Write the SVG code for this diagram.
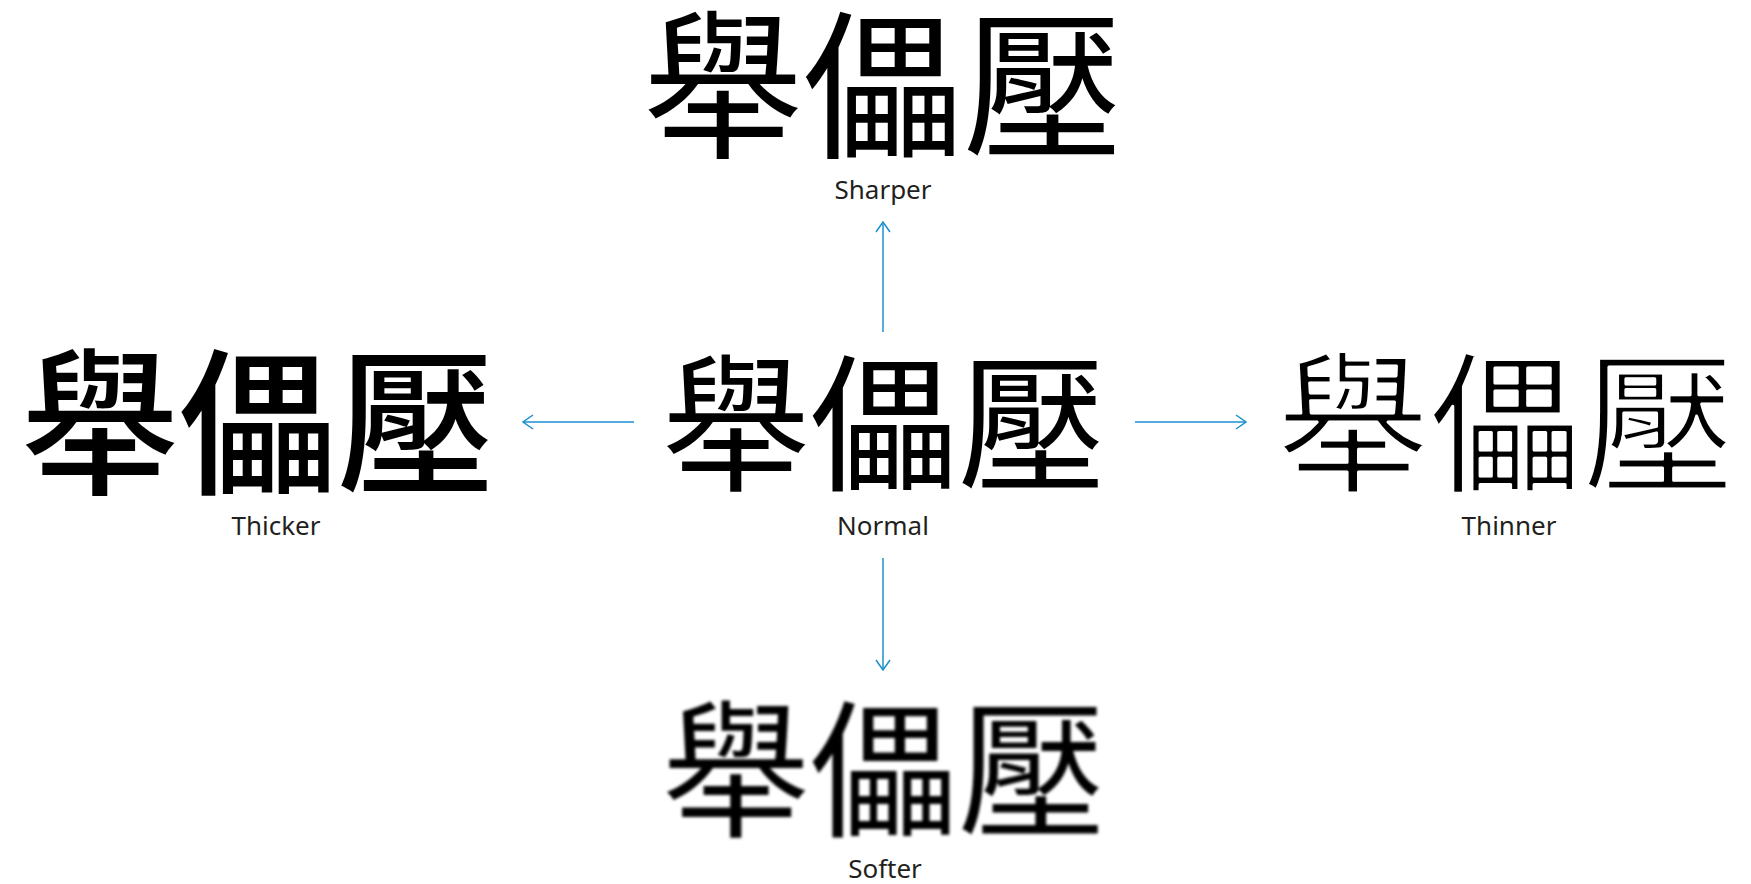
<svg xmlns="http://www.w3.org/2000/svg" width="1751" height="884" viewBox="0 0 1751 884">
  <style>
    .glyphs { font-family: "Noto Sans CJK TC", "Noto Sans CJK SC", "Noto Sans CJK JP", sans-serif; fill: #000; text-anchor: middle; }
    .thin { stroke: #fff; stroke-width: 3; stroke-linejoin: round; }
    .label { font-family: "Noto Sans", "Open Sans", "Liberation Sans", sans-serif; font-size: 26px; fill: #231f20; text-anchor: middle; }
    .conn { stroke: #1a90d0; stroke-width: 1.5; fill: none; }
  </style>
  <defs>
    <marker id="arr" viewBox="0 0 12 16" refX="11" refY="8" markerWidth="12" markerHeight="16" markerUnits="userSpaceOnUse" orient="auto">
      <path d="M1,1 L11,8 L1,15" fill="none" stroke="#1a90d0" stroke-width="1.5"/>
    </marker>
    <filter id="soft" x="-5%" y="-5%" width="110%" height="110%">
      <feGaussianBlur stdDeviation="1.6"/>
    </filter>
  </defs>
  <rect width="1751" height="884" fill="#fff"/>

  <g id="sharper">
    <text class="glyphs" x="883" y="146" font-size="160" font-weight="400">舉儡壓</text>
    <text class="label" x="883" y="199">Sharper</text>
  </g>

  <g id="normal">
    <text class="glyphs" x="884" y="479" font-size="148" font-weight="400">舉儡壓</text>
    <text class="label" x="883" y="535">Normal</text>
  </g>

  <g id="thicker">
    <text class="glyphs" x="258" y="482" font-size="158" font-weight="500">舉儡壓</text>
    <text class="label" x="276" y="535">Thicker</text>
  </g>

  <g id="thinner">
    <text class="glyphs thin" x="1506" y="481" font-size="153" font-weight="400">舉儡壓</text>
    <text class="label" x="1509" y="535">Thinner</text>
  </g>

  <g id="softer">
    <text class="glyphs" x="884" y="825" font-size="148" font-weight="400" filter="url(#soft)">舉儡壓</text>
    <text class="label" x="885" y="878">Softer</text>
  </g>

  <g id="connectors">
    <line class="conn" x1="883" y1="332" x2="883" y2="222" marker-end="url(#arr)"/>
    <line class="conn" x1="634" y1="422" x2="523" y2="422" marker-end="url(#arr)"/>
    <line class="conn" x1="1135" y1="422" x2="1246" y2="422" marker-end="url(#arr)"/>
    <line class="conn" x1="883" y1="558" x2="883" y2="670" marker-end="url(#arr)"/>
  </g>
</svg>
